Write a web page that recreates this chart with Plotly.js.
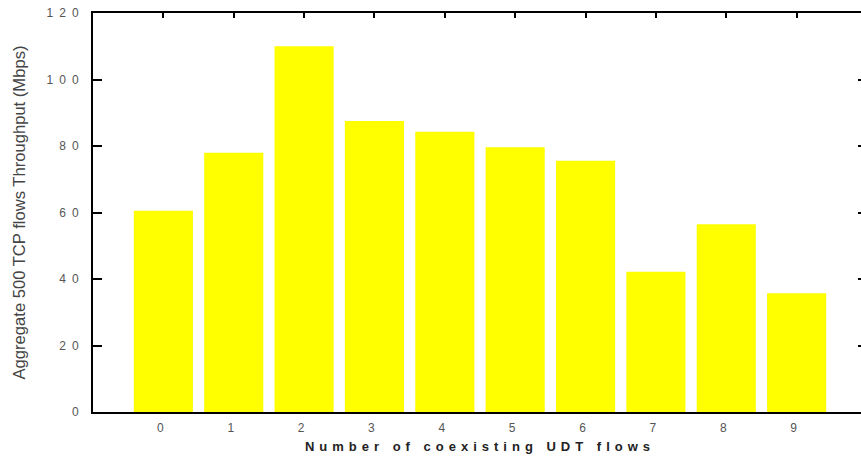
<!DOCTYPE html>
<html>
<head>
<meta charset="utf-8">
<script src="https://cdn.plot.ly/plotly-3.0.1.min.js"></script>
<style>
  html, body { margin: 0; padding: 0; overflow: hidden; background: #fff; }
  #chart { width: 872px; height: 458px; }
  .xtick text, .ytick text { letter-spacing: 6px; }
  .g-xtitle text { letter-spacing: 5px; }
</style>
</head>
<body>
<div id="chart"></div>
<script>
const categories = [0, 1, 2, 3, 4, 5, 6, 7, 8, 9];
const throughput = [60.5, 78, 110, 87.5, 84.3, 79.6, 75.6, 42.2, 56.5, 35.7];
const yTicks = [0, 20, 40, 60, 80, 100, 120];

const trace = {
  type: 'bar',
  x: categories,
  y: throughput,
  marker: { color: '#ffff00', line: { width: 0 } },
  hoverinfo: 'skip'
};

const layout = {
  width: 872,
  height: 458,
  margin: { l: 93, r: 5, t: 13, b: 46 },
  paper_bgcolor: '#ffffff',
  plot_bgcolor: '#ffffff',
  bargap: 0.16,
  showlegend: false,
  font: { family: 'Liberation Sans, Arial, sans-serif', color: '#555' },
  xaxis: {
    range: [-1, 10],
    tickmode: 'array',
    tickvals: categories,
    ticktext: categories.map(String),
    ticks: 'inside',
    ticklen: 5,
    tickwidth: 2,
    tickcolor: '#000',
    showline: true,
    linecolor: '#000',
    linewidth: 2,
    mirror: 'ticks',
    showgrid: false,
    zeroline: false,
    layer: 'below traces',
    ticklabelstandoff: 4,
    tickfont: { size: 12, color: '#555' },
    title: { text: 'Number of coexisting UDT flows', font: { size: 13, color: '#222', weight: 'bold' }, standoff: 7 }
  },
  yaxis: {
    range: [0, 120],
    tickmode: 'array',
    tickvals: yTicks,
    ticktext: yTicks.map(String),
    ticks: 'inside',
    ticklen: 9,
    tickwidth: 2,
    tickcolor: '#000',
    showline: true,
    linecolor: '#000',
    linewidth: 2,
    mirror: 'ticks',
    showgrid: false,
    zeroline: false,
    layer: 'below traces',
    ticklabelstandoff: 4,
    tickfont: { size: 12, color: '#555' },
    title: { text: 'Aggregate 500 TCP flows Throughput (Mbps)', font: { size: 16.6, color: '#444' }, standoff: 17 }
  }
};

Plotly.newPlot('chart', [trace], layout, { displayModeBar: false, staticPlot: true });
</script>
</body>
</html>
